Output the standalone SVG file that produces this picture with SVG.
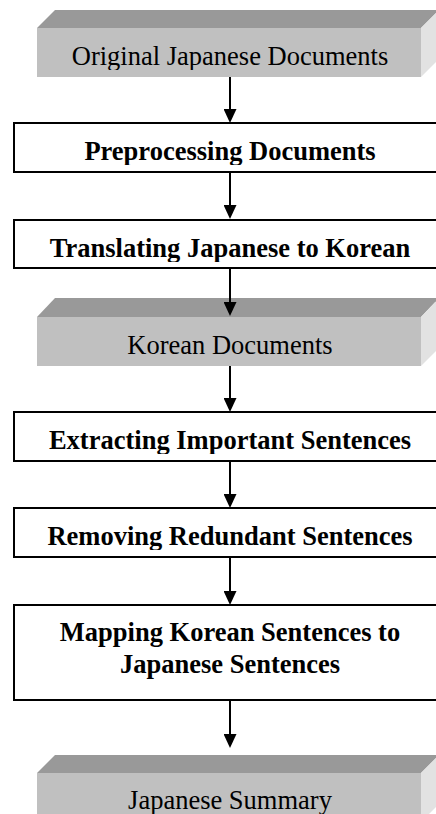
<svg xmlns="http://www.w3.org/2000/svg" width="436" height="814" viewBox="0 0 436 814">
<style>
.top{fill:#999999}
.front{fill:#c0c0c0}
.side{fill:#e2e2e2}
.box{fill:#ffffff;stroke:#000000;stroke-width:2}
.t{font-family:"Liberation Serif","Times New Roman",serif;font-size:26.5px;fill:#000000;text-anchor:middle}
.b{font-weight:bold}
.conn{stroke:#000000;stroke-width:2;fill:none}
</style>
<defs>
<marker id="ah" markerUnits="userSpaceOnUse" viewBox="0 0 14 13" refX="4" refY="6.5" markerWidth="14" markerHeight="13" orient="auto">
<path d="M0,0 L14,6.5 L0,13 z" fill="#000000"/>
</marker>
<clipPath id="c1"><rect x="0" y="28" width="436" height="42"/></clipPath>
<clipPath id="c2"><rect x="0" y="124" width="436" height="41"/></clipPath>
<clipPath id="c3"><rect x="0" y="221" width="436" height="41"/></clipPath>
<clipPath id="c4"><rect x="0" y="317" width="436" height="42"/></clipPath>
<clipPath id="c5"><rect x="0" y="413" width="436" height="41"/></clipPath>
<clipPath id="c6"><rect x="0" y="509" width="436" height="41"/></clipPath>
<clipPath id="c8"><rect x="0" y="773" width="436" height="41"/></clipPath>
</defs>
<rect x="0" y="0" width="436" height="814" fill="#ffffff"/>

<g id="n1">
<polygon class="top" points="55,10 439,10 421,28 37,28"/>
<polygon class="side" points="421,28 439,10 439,59 421,77"/>
<rect class="front" x="37" y="28" width="384" height="49"/>
<text class="t" x="230" y="65" clip-path="url(#c1)">Original Japanese Documents</text>
</g>

<g id="n2">
<rect class="box" x="14" y="123" width="432" height="49"/>
<text class="t b" x="230" y="160" clip-path="url(#c2)">Preprocessing Documents</text>
</g>

<g id="n3">
<rect class="box" x="14" y="220" width="432" height="48"/>
<text class="t b" x="230" y="257" clip-path="url(#c3)">Translating Japanese to Korean</text>
</g>

<g id="n4">
<polygon class="top" points="55,298 439,298 421,317 37,317"/>
<polygon class="side" points="421,317 439,298 439,348 421,366"/>
<rect class="front" x="37" y="317" width="384" height="49"/>
<text class="t" x="230" y="354" clip-path="url(#c4)">Korean Documents</text>
</g>

<g id="n5">
<rect class="box" x="14" y="412" width="432" height="49"/>
<text class="t b" x="230" y="449" clip-path="url(#c5)">Extracting Important Sentences</text>
</g>

<g id="n6">
<rect class="box" x="14" y="508" width="432" height="49"/>
<text class="t b" x="230" y="545" clip-path="url(#c6)">Removing Redundant Sentences</text>
</g>

<g id="n7">
<rect class="box" x="14" y="605" width="432" height="95"/>
<text class="t b" x="230" y="641">Mapping Korean Sentences to</text>
<text class="t b" x="230" y="673">Japanese Sentences</text>
</g>

<g id="n8">
<polygon class="top" points="55,755 439,755 421,773 37,773"/>
<polygon class="side" points="421,773 439,755 439,804 421,822"/>
<rect class="front" x="37" y="773" width="384" height="49"/>
<text class="t" x="230" y="809" clip-path="url(#c8)">Japanese Summary</text>
</g>

<g id="connectors">
<line class="conn" x1="230" y1="77" x2="230" y2="113" marker-end="url(#ah)"/>
<line class="conn" x1="230" y1="172" x2="230" y2="209" marker-end="url(#ah)"/>
<line class="conn" x1="230" y1="268" x2="230" y2="306" marker-end="url(#ah)"/>
<line class="conn" x1="230" y1="366" x2="230" y2="402" marker-end="url(#ah)"/>
<line class="conn" x1="230" y1="461" x2="230" y2="498" marker-end="url(#ah)"/>
<line class="conn" x1="230" y1="557" x2="230" y2="595" marker-end="url(#ah)"/>
<line class="conn" x1="230" y1="700" x2="230" y2="738" marker-end="url(#ah)"/>
</g>
</svg>
